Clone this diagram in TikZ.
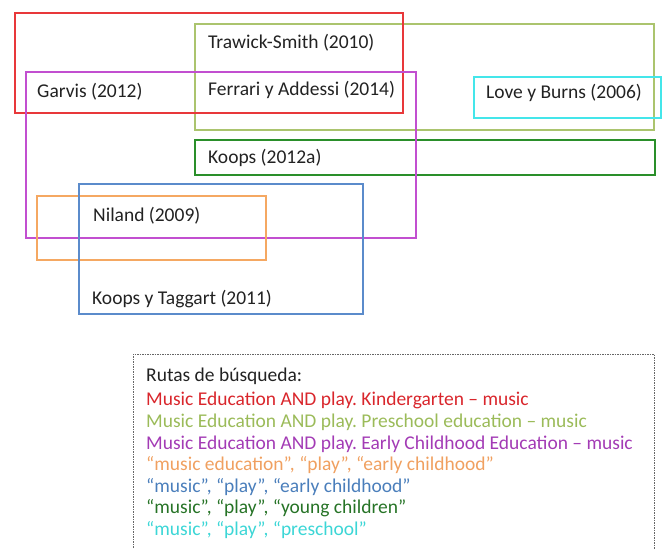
\documentclass[tikz,border=0pt]{standalone}
\usepackage{fontspec}
\setmainfont{Carlito}
\frenchspacing
\definecolor{cRed}{HTML}{E8383A}
\definecolor{cOlive}{HTML}{ABC46E}
\definecolor{cPurple}{HTML}{C24FD0}
\definecolor{cCyan}{HTML}{44E6EA}
\definecolor{cDGreen}{HTML}{2A8F2A}
\definecolor{cBlue}{HTML}{5B8BCB}
\definecolor{cOrange}{HTML}{F5A862}
\definecolor{tBlack}{HTML}{222222}
\definecolor{tRed}{HTML}{D9262C}
\definecolor{tOlive}{HTML}{9BBB59}
\definecolor{tPurple}{HTML}{A33BB5}
\definecolor{tOrange}{HTML}{F0A060}
\definecolor{tBlue}{HTML}{4A7EBB}
\definecolor{tGreen}{HTML}{267326}
\definecolor{tCyan}{HTML}{3CD6D6}
\begin{document}
\begin{tikzpicture}[x=1bp,y=-1bp,
  box/.style={line width=2.6bp},
  lbl/.style={anchor=base west, inner sep=0pt, font=\fontsize{19.5bp}{22bp}\selectfont, text=tBlack}]
\useasboundingbox (0,0) rectangle (664,549);
\clip (0,0) rectangle (664,549);
% boxes
\draw[box, cOlive] (195,24) rectangle (654,130);
\draw[box, cDGreen] (195,140) rectangle (655,175);
\draw[box, cCyan] (474,77) rectangle (661,118);
\draw[box, cRed] (15,13) rectangle (403,113);
\draw[box, cPurple] (26,72) rectangle (416,238);
\draw[box, cOrange] (37,196) rectangle (266,260);
\draw[box, cBlue] (79,184) rectangle (363,314);
% labels
\node[lbl] (trawick) at (208,49) {Trawick-Smith (2010)};
\node[lbl] (garvis) at (37,98) {Garvis (2012)};
\node[lbl] (ferrari) at (208,96) {Ferrari y Addessi (2014)};
\node[lbl] (love) at (486,99) {Love y Burns (2006)};
\node[lbl] (koops) at (208,164) {Koops (2012a)};
\node[lbl] (niland) at (93,222) {Niland (2009)};
\node[lbl] (koopst) at (92,304) {Koops y Taggart (2011)};
% search box
\draw[gray!80!black, line width=1bp, dash pattern=on 1.5bp off 1bp] (133,560) -- (133,354) -- (654,354) -- (654,560);
\node[lbl] (rutas) at (146,381) {Rutas de búsqueda:};
\node[lbl, text=tRed] (r1) at (146,405) {Music Education AND play. Kindergarten – music};
\node[lbl, text=tOlive] (r2) at (146,427) {Music Education AND play. Preschool education – music};
\node[lbl, text=tPurple] (r3) at (146,449) {Music Education AND play. Early Childhood Education – music};
\node[lbl, text=tOrange] (r4) at (146,470) {“music education”, “play”, “early childhood”};
\node[lbl, text=tBlue] (r5) at (146,492) {“music”, “play”, “early childhood”};
\node[lbl, text=tGreen] (r6) at (146,513) {“music”, “play”, “young children”};
\node[lbl, text=tCyan] (r7) at (146,535) {“music”, “play”, “preschool”};
\end{tikzpicture}
\end{document}
